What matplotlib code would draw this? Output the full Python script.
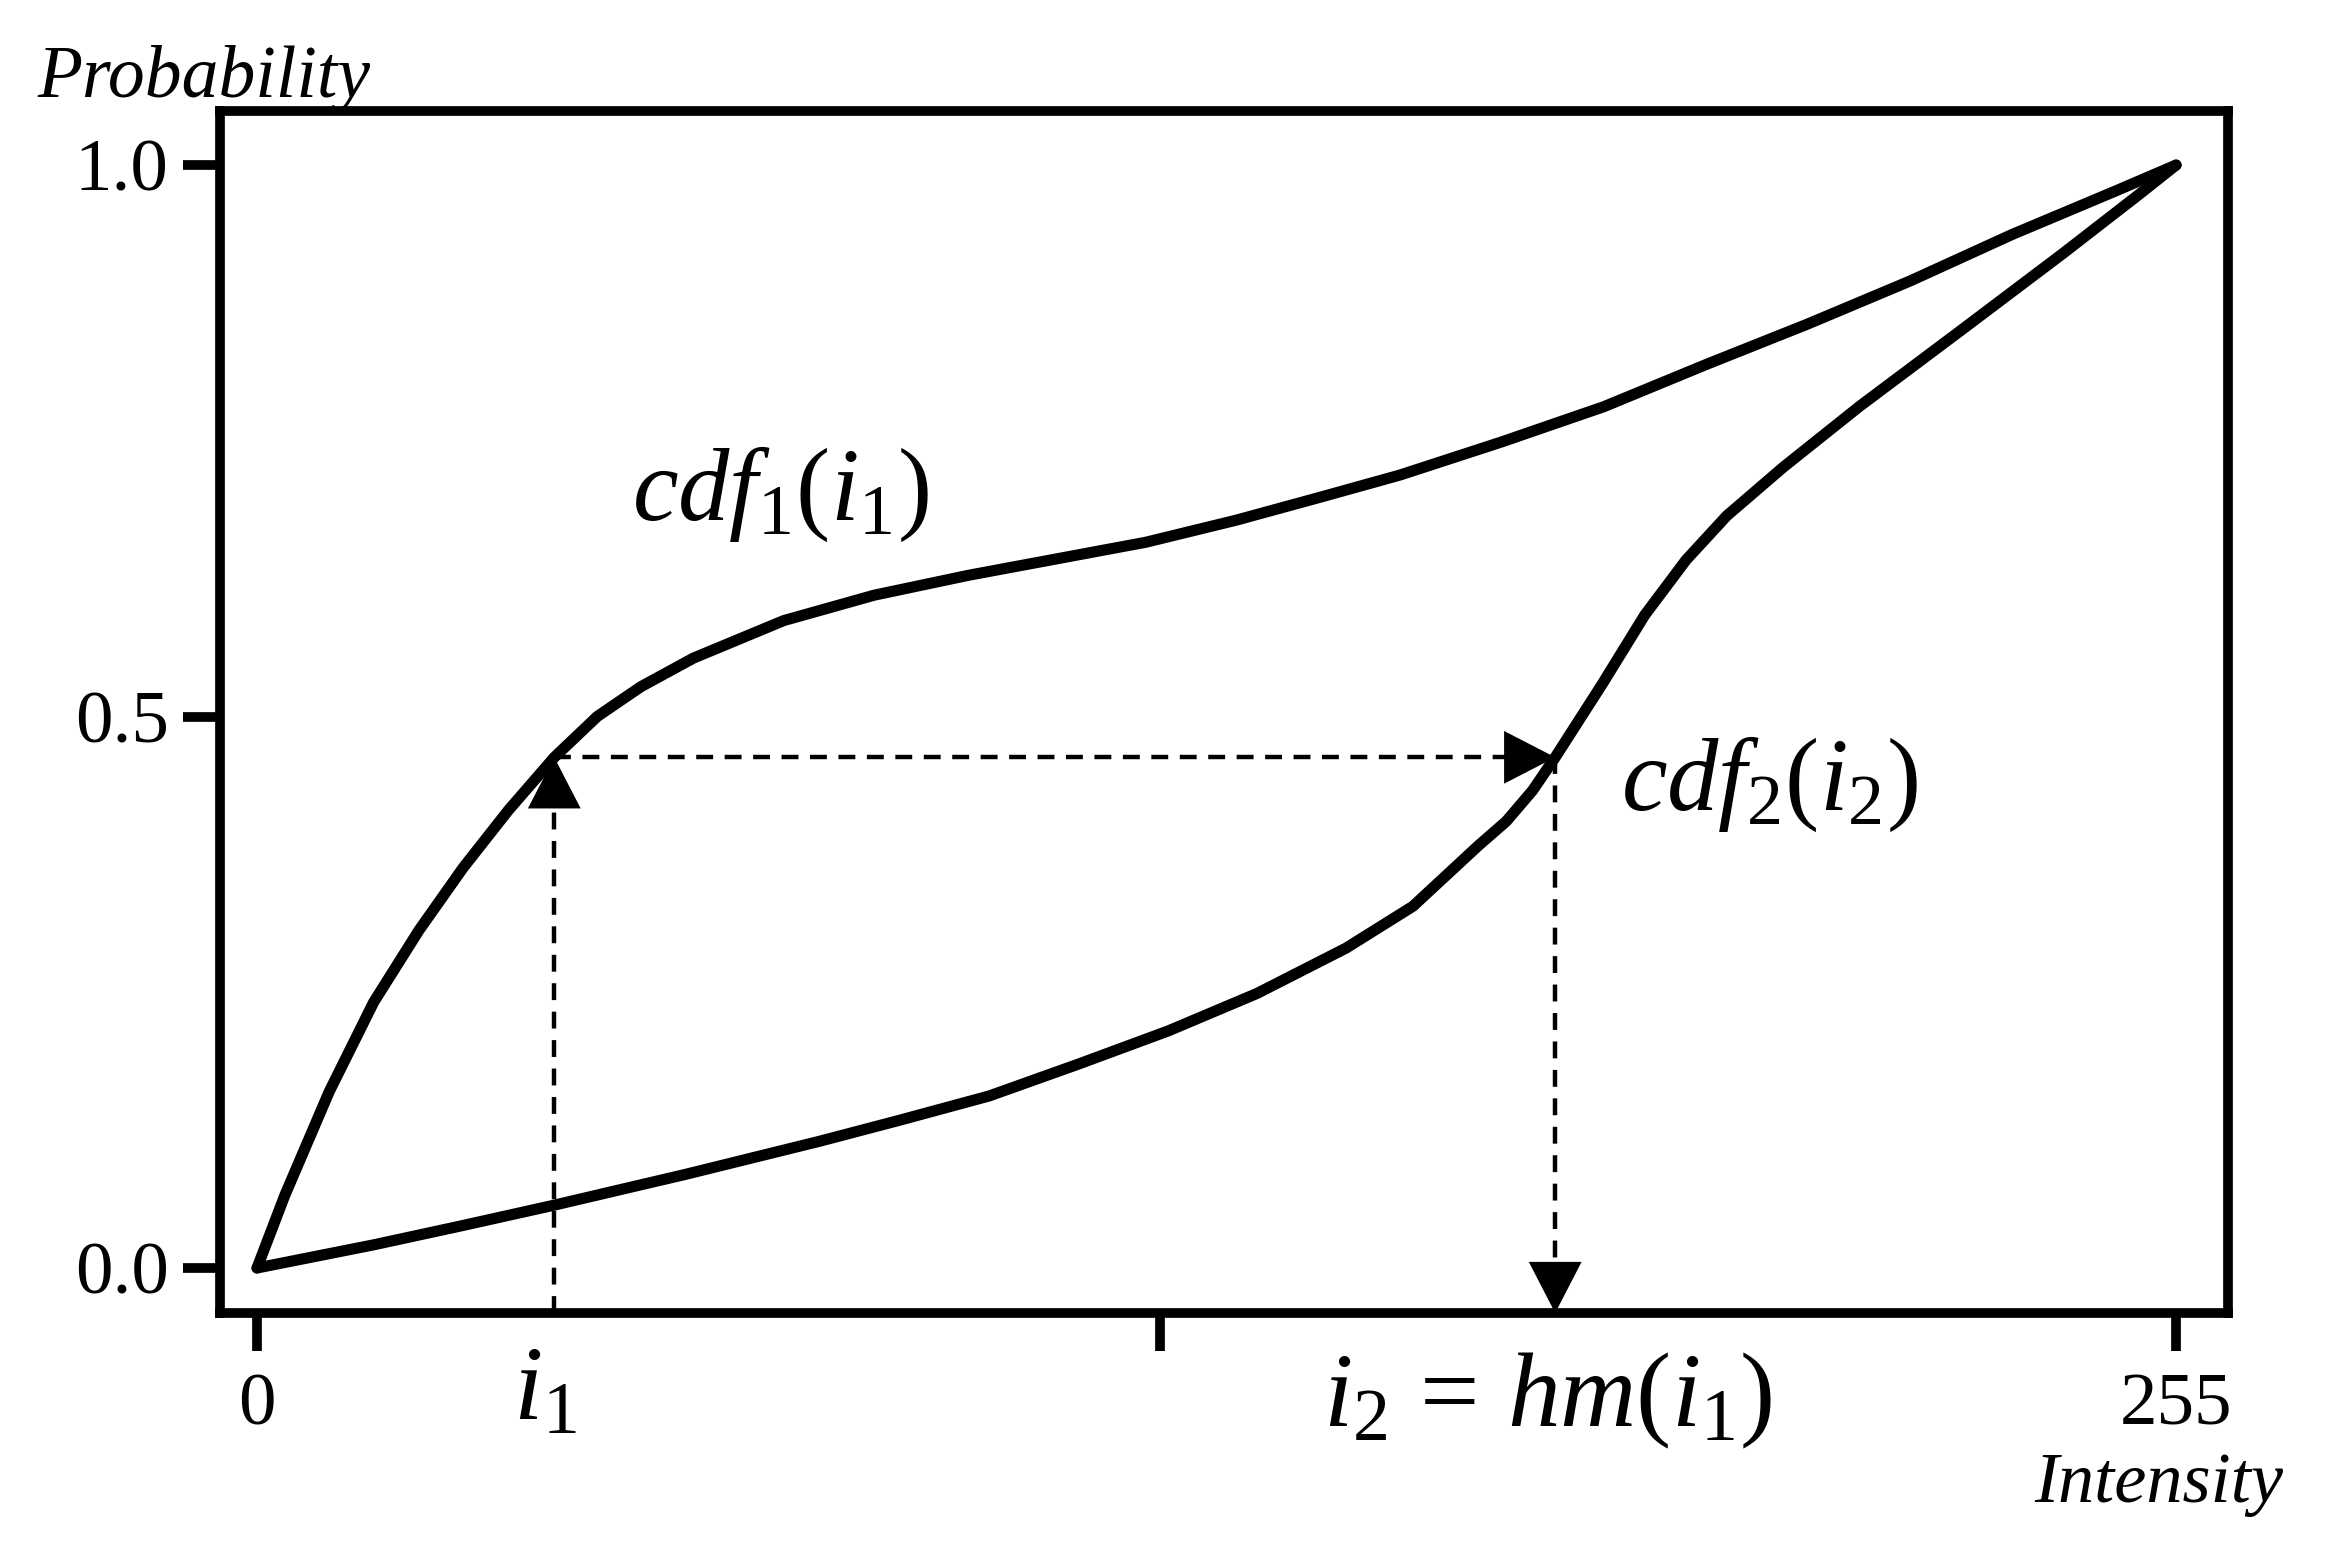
import matplotlib
matplotlib.use("Agg")
import matplotlib.pyplot as plt
from matplotlib.patches import FancyArrowPatch

plt.rcParams['font.family'] = ['Liberation Serif', 'DejaVu Serif']
plt.rcParams['mathtext.fontset'] = 'custom'
plt.rcParams['mathtext.it'] = 'Liberation Serif:italic'
plt.rcParams['mathtext.rm'] = 'Liberation Serif'

# ---- data ----
cdf1_x = [0, 3.7, 9.6, 15.5, 21.5, 27.4, 33.4, 39.5, 45.2, 51.0, 58.0, 70.0, 82.0, 94.5,
          106.3, 118.1, 130.1, 141.9, 151.9, 165.4, 179.0, 192.5, 206.1, 219.7, 233.2, 246.8, 255]
cdf1_y = [0, 0.066, 0.160, 0.241, 0.306, 0.363, 0.415, 0.463, 0.500, 0.527, 0.553, 0.587, 0.610, 0.628,
          0.643, 0.658, 0.678, 0.700, 0.719, 0.749, 0.781, 0.819, 0.856, 0.895, 0.937, 0.976, 1.0]

cdf2_x = [0, 15.5, 27.0, 39.5, 57.0, 74.8, 85.4, 97.3, 109.2, 121.1, 132.9, 144.7, 153.6, 162.3,
          166.0, 169.5, 172.5, 178.8, 184.4, 189.9, 195.3, 202.8, 212.9, 226.4, 240.0, 250.2, 255]
cdf2_y = [0, 0.021, 0.038, 0.057, 0.085, 0.115, 0.134, 0.156, 0.185, 0.215, 0.249, 0.290, 0.328, 0.383,
          0.405, 0.433, 0.463, 0.530, 0.592, 0.642, 0.682, 0.726, 0.781, 0.850, 0.920, 0.974, 1.0]

i1 = 39.5
i2 = 172.5
p_level = 0.463

x_ticks = [0, 120, 255]
x_tick_labels = ['0', '', '255']
y_ticks = [0.0, 0.5, 1.0]
y_tick_labels = ['0.0', '0.5', '1.0']

DPI = 200
fig = plt.figure(figsize=(2332 / DPI, 1556 / DPI), dpi=DPI)
ax = fig.add_axes([220 / 2332, 1 - 1313 / 1556, (2228 - 220) / 2332, (1313 - 111) / 1556])

ax.set_xlim(-4.92, 261.9)
ax.set_ylim(-0.0408, 1.049)

lw_curve = 4.0
ax.plot(cdf1_x, cdf1_y, color='black', lw=lw_curve, solid_capstyle='round', solid_joinstyle='round', zorder=3)
ax.plot(cdf2_x, cdf2_y, color='black', lw=lw_curve, solid_capstyle='round', solid_joinstyle='round', zorder=3)

# dashed guide lines
dash = dict(color='black', lw=1.6, dashes=(3.8, 2.6), zorder=2)
ymin = ax.get_ylim()[0]
ax.plot([i1, i1], [ymin, p_level], **dash)
ax.plot([i1, i2], [p_level, p_level], **dash)
ax.plot([i2, i2], [p_level, ymin], **dash)

def head(tip, base):
    a = FancyArrowPatch(base, tip, arrowstyle='-|>,head_length=18.4,head_width=9.5',
                        mutation_scale=1, color='black', lw=0, shrinkA=0, shrinkB=0,
                        zorder=5, clip_on=False)
    ax.add_patch(a)

head((i1, p_level), (i1, p_level - 0.06))
head((i2, p_level), (i2 - 8, p_level))
head((i2, ymin), (i2, ymin + 0.06))

# spines and ticks
for s in ax.spines.values():
    s.set_linewidth(3.5)
ax.set_xticks(x_ticks)
ax.set_xticklabels(x_tick_labels)
ax.set_yticks(y_ticks)
ax.set_yticklabels(y_tick_labels)
ax.tick_params(axis='both', direction='out', width=3.5, length=13.5, labelsize=27)
ax.tick_params(axis='x', pad=8)
ax.tick_params(axis='y', pad=5)

# annotations
ax.text(49.8, 0.678, r'$cdf_1(i_1)$', fontsize=37, ha='left', va='baseline')
ax.text(181.3, 0.415, r'$cdf_2(i_2)$', fontsize=37, ha='left', va='baseline')
ax.text(34.0, -0.137, r'$i_1$', fontsize=38, ha='left', va='baseline', clip_on=False)
ax.text(141.7, -0.144, r'$i_2\,=\,hm(i_1)$', fontsize=38, ha='left', va='baseline', clip_on=False)

fig.text(37 / 2332, 1 - 97 / 1556, 'Probability', fontsize=26.5, style='italic', ha='left', va='baseline')
fig.text(2283 / 2332, 1 - 1502 / 1556, 'Intensity', fontsize=26, style='italic', ha='right', va='baseline')

fig.savefig('out.png', dpi=DPI)
